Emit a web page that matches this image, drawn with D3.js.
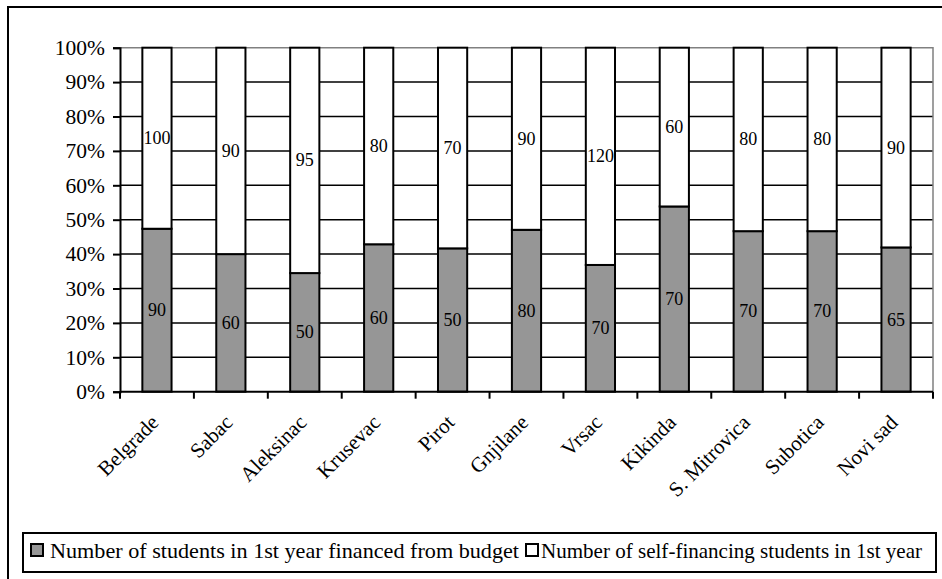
<!DOCTYPE html>
<html>
<head>
<meta charset="utf-8">
<script src="https://cdn.jsdelivr.net/npm/d3@7"></script>
<style>
  html, body { margin: 0; padding: 0; background: #fff; }
  svg text { font-family: "Liberation Serif", "Times New Roman", Tinos, "DejaVu Serif", serif; }
</style>
</head>
<body>
<svg id="chart" width="942" height="579"></svg>
<script>
// Cities and first-year enrolment counts
const cities = ["Belgrade", "Sabac", "Aleksinac", "Krusevac", "Pirot", "Gnjilane",
                "Vrsac", "Kikinda", "S. Mitrovica", "Subotica", "Novi sad"];
const budgetStudents = [90, 60, 50, 60, 50, 80, 70, 70, 70, 70, 65];
const selfFinancing  = [100, 90, 95, 80, 70, 90, 120, 60, 80, 80, 90];
const seriesNames = ["Number of students in 1st year financed from budget",
                     "Number of self-financing students in 1st year"];
const seriesColors = ["#969696", "#ffffff"];
const percentTicks = [0, 0.1, 0.2, 0.3, 0.4, 0.5, 0.6, 0.7, 0.8, 0.9, 1];

const FONT = '"Liberation Serif", "Times New Roman", Tinos, "DejaVu Serif", serif';
const svg = d3.select("#chart");
const plot = { left: 120, right: 933, top: 47.7, bottom: 391.7 };

// Outer chart frame
svg.append("rect")
  .attr("x", 8).attr("y", 7).attr("width", 1000).attr("height", 1000)
  .attr("fill", "none").attr("stroke", "#000").attr("stroke-width", 2);

const x = d3.scaleBand().domain(cities).range([plot.left, plot.right]).padding(0);
const y = d3.scaleLinear().domain([0, 1]).range([plot.bottom, plot.top]);

// Stack the two series as shares of each city's total
const rows = cities.map((c, i) => ({ city: c, budget: budgetStudents[i], self: selfFinancing[i] }));
const stack = d3.stack().keys(["budget", "self"]).offset(d3.stackOffsetExpand);
const layers = stack(rows);

// Horizontal gridlines
svg.append("g").selectAll("line")
  .data(percentTicks.filter(t => t > 0 && t < 1))
  .join("line")
  .attr("x1", plot.left).attr("x2", plot.right)
  .attr("y1", d => y(d)).attr("y2", d => y(d))
  .attr("stroke", "#000").attr("stroke-width", 1.5);

// Plot frame (top and right in grey)
svg.append("path")
  .attr("d", `M${plot.left},${y(1)}H${plot.right}V${y(0)}`)
  .attr("fill", "none").attr("stroke", "#808080").attr("stroke-width", 1.5);

// Bars
const barW = x.bandwidth() * 0.395;
const g = svg.append("g");
layers.forEach((layer, li) => {
  g.append("g").selectAll("rect")
    .data(layer)
    .join("rect")
    .attr("x", d => x(d.data.city) + (x.bandwidth() - barW) / 2)
    .attr("width", barW)
    .attr("y", d => y(d[1]))
    .attr("height", d => y(d[0]) - y(d[1]))
    .attr("fill", seriesColors[li])
    .attr("stroke", "#000").attr("stroke-width", 2);
});

// Value labels centred in each segment
layers.forEach((layer, li) => {
  svg.append("g").selectAll("text")
    .data(layer)
    .join("text")
    .attr("x", d => x(d.data.city) + x.bandwidth() / 2)
    .attr("y", d => y((d[0] + d[1]) / 2) + 6)
    .attr("text-anchor", "middle")
    .attr("font-family", FONT)
    .attr("font-size", 18)
    .text(d => d.data[layer.key]);
});

// Y axis
const yAxis = d3.axisLeft(y).tickValues(percentTicks).tickFormat(d3.format(".0%"))
  .tickSize(7).tickPadding(8);
const yg = svg.append("g").attr("transform", `translate(${plot.left},0)`).call(yAxis)
  .attr("font-family", FONT);
yg.select(".domain").attr("stroke", "#000").attr("stroke-width", 2);
yg.selectAll(".tick line").attr("stroke", "#000").attr("stroke-width", 2);
yg.selectAll(".tick text").attr("font-size", 21.5).attr("fill", "#000");

// X axis: ticks at category boundaries
const boundaries = cities.map(c => x(c)).concat([plot.right]);
const xg = svg.append("g").attr("font-family", FONT);
xg.append("line")
  .attr("x1", plot.left).attr("x2", plot.right)
  .attr("y1", plot.bottom).attr("y2", plot.bottom)
  .attr("stroke", "#000").attr("stroke-width", 2);
xg.selectAll("line.tk")
  .data(boundaries)
  .join("line").attr("class", "tk")
  .attr("x1", d => d).attr("x2", d => d)
  .attr("y1", plot.bottom).attr("y2", plot.bottom + 7)
  .attr("stroke", "#000").attr("stroke-width", 2);
xg.selectAll("text")
  .data(cities)
  .join("text")
  .attr("transform", c => `translate(${x(c) + x.bandwidth() / 2 + 3},${plot.bottom + 32}) rotate(-45)`)
  .attr("text-anchor", "end")
  .attr("font-size", 21)
  .text(c => c);

// Legend
const lg = svg.append("g").attr("font-family", FONT);
lg.append("rect")
  .attr("x", 23).attr("y", 533).attr("width", 913).attr("height", 39)
  .attr("fill", "#fff").attr("stroke", "#000").attr("stroke-width", 2);
const legendItems = [
  { swatchX: 31, textX: 50, textLen: 469 },
  { swatchX: 526, textX: 541, textLen: 381 }
];
seriesNames.forEach((name, i) => {
  const it = legendItems[i];
  lg.append("rect")
    .attr("x", it.swatchX).attr("y", 544).attr("width", 12).attr("height", 12)
    .attr("fill", seriesColors[i]).attr("stroke", "#000").attr("stroke-width", 2);
  lg.append("text")
    .attr("x", it.textX).attr("y", 558)
    .attr("font-size", 21)
    .attr("textLength", it.textLen)
    .attr("lengthAdjust", "spacingAndGlyphs")
    .text(name);
});
</script>
</body>
</html>
